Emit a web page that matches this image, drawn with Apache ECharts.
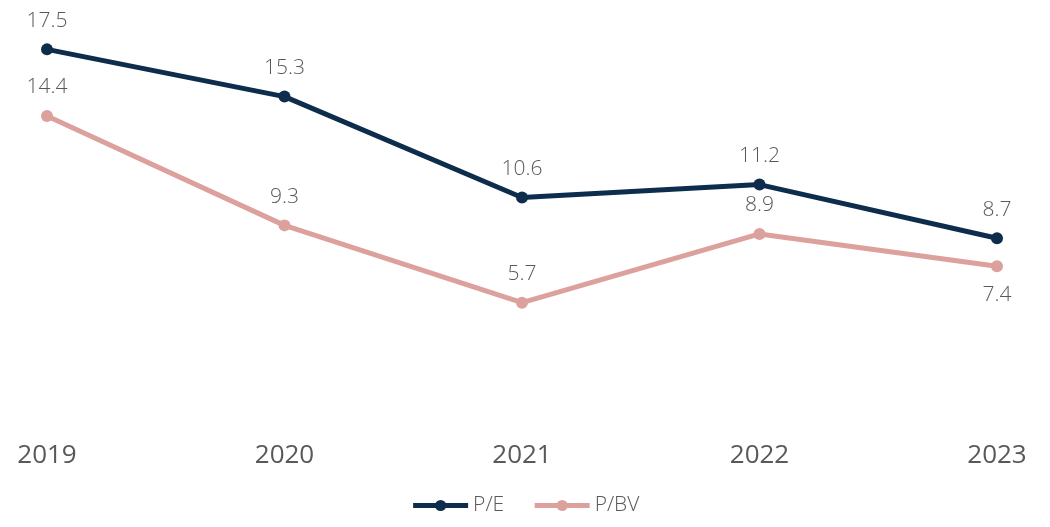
<!DOCTYPE html>
<html>
<head>
<meta charset="utf-8">
<script src="https://cdn.jsdelivr.net/npm/echarts@6/dist/echarts.min.js"></script>
<style>
  html, body { margin: 0; padding: 0; background: #fff; }
  #chart { width: 1050px; height: 527px; }
</style>
</head>
<body>
<div id="chart"></div>
<script>
const years = ['2019', '2020', '2021', '2022', '2023']
const peValues = [17.5, 15.3, 10.6, 11.2, 8.7]
const pbvValues = [14.4, 9.3, 5.7, 8.9, 7.4]
// label side for each P/BV point
const pbvLabelPos = ['top', 'top', 'top', 'top', 'bottom']

const textColor = '#595959'
const font = '"Open Sans", Lato, sans-serif'

const chart = echarts.init(document.getElementById('chart'))
chart.setOption({
  animation: false,
  grid: { left: 47, right: 53, top: 0, bottom: 102, containLabel: false },
  legend: {
    bottom: 6,
    left: 'center',
    itemWidth: 55,
    itemHeight: 14,
    itemGap: 28,
    lineStyle: { width: 5 },
    textStyle: { color: textColor, fontSize: 21, fontFamily: font, fontWeight: 300 },
    data: ['P/E', 'P/BV'],
  },
  xAxis: {
    type: 'category',
    data: years,
    boundaryGap: false,
    axisLine: { show: false },
    axisTick: { show: false },
    axisLabel: { color: textColor, fontSize: 26, fontFamily: font, margin: 18 },
  },
  yAxis: {
    type: 'value',
    min: 0,
    max: 19.8,
    show: false,
  },
  series: [
    {
      name: 'P/E',
      type: 'line',
      data: peValues,
      symbol: 'circle',
      symbolSize: 12,
      color: '#0e2d4c',
      lineStyle: { width: 5, color: '#0e2d4c' },
      label: {
        show: true,
        position: 'top',
        distance: 12,
        color: textColor,
        fontSize: 21,
        fontFamily: font,
        fontWeight: 300,
        formatter: (p) => p.value.toFixed(1),
      },
    },
    {
      name: 'P/BV',
      type: 'line',
      data: pbvValues.map((v, i) => ({
        value: v,
        label: { position: pbvLabelPos[i] },
      })),
      symbol: 'circle',
      symbolSize: 12,
      color: '#dca19c',
      lineStyle: { width: 5, color: '#dca19c' },
      label: {
        show: true,
        distance: 12,
        color: textColor,
        fontSize: 21,
        fontFamily: font,
        fontWeight: 300,
        formatter: (p) => p.value.toFixed(1),
      },
    },
  ],
})
</script>
</body>
</html>
